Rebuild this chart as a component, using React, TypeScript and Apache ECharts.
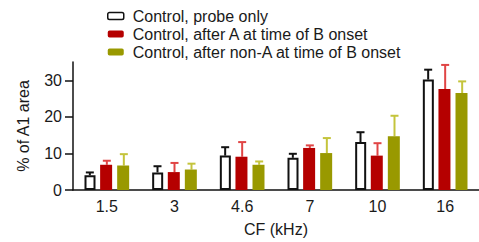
import React, { useEffect, useRef } from "react";
import * as echarts from "echarts";

const categories = ["1.5", "3", "4.6", "7", "10", "16"];
const seriesNames = [
  "Control, probe only",
  "Control, after A at time of B onset",
  "Control, after non-A at time of B onset",
];
const probeOnly = [4.0, 4.8, 9.4, 8.8, 13.1, 30.2];
const probeOnlyErr = [0.8, 1.7, 2.3, 1.1, 2.7, 2.7];
const afterA = [6.9, 4.9, 9.1, 11.5, 9.4, 27.6];
const afterAErr = [1.1, 2.5, 4.0, 0.7, 3.4, 6.6];
const afterNonA = [6.7, 5.6, 6.9, 10.1, 14.7, 26.5];
const afterNonAErr = [3.1, 1.6, 0.9, 4.1, 5.6, 3.2];
const yTicks = [0, 10, 20, 30];

const FONT = "Liberation Sans, Arial, sans-serif";
const TXT = "#1a1a1a";

function errSeries(vals: number[], errs: number[], offset: number, color: string) {
  return {
    type: "custom",
    silent: true,
    data: vals.map((v, i) => [i, v, v + errs[i]]),
    renderItem: (params: any, api: any) => {
      const i = api.value(0);
      const lo = api.coord([i, api.value(1)]);
      const hi = api.coord([i, api.value(2)]);
      const x = lo[0] + offset;
      const cap = 4;
      return {
        type: "group",
        children: [
          { type: "line", shape: { x1: x, y1: lo[1], x2: x, y2: hi[1] }, style: { stroke: color, lineWidth: 2 } },
          { type: "line", shape: { x1: x - cap, y1: hi[1], x2: x + cap, y2: hi[1] }, style: { stroke: color, lineWidth: 2 } },
        ],
      };
    },
    z: 1,
  };
}

export default function App() {
  const ref = useRef<HTMLDivElement>(null);
  useEffect(() => {
    document.body.style.margin = "0";
    const chart = echarts.init(ref.current!, null, { renderer: "svg" });
    chart.setOption({
      animation: false,
      backgroundColor: "#ffffff",
      textStyle: { fontFamily: FONT },
      legend: {
        orient: "vertical",
        left: 102,
        top: 3,
        itemWidth: 16,
        itemHeight: 7,
        itemGap: 2,
        textStyle: { fontSize: 16, color: TXT, fontFamily: FONT, padding: [0, 0, 0, 4] },
        data: [
          { name: seriesNames[0], itemStyle: { color: "#fff", borderColor: "#111", borderWidth: 1.5 } },
          { name: seriesNames[1] },
          { name: seriesNames[2] },
        ],
      },
      grid: { left: 73, right: -9, top: 62, bottom: 47 },
      xAxis: {
        type: "category",
        data: categories,
        name: "CF (kHz)",
        nameLocation: "middle",
        nameGap: 31,
        nameTextStyle: { fontSize: 16, color: TXT, fontFamily: FONT },
        axisLine: { lineStyle: { color: "#111", width: 1.5 } },
        axisTick: { show: false },
        axisLabel: { fontSize: 16, color: TXT, margin: 8, fontFamily: FONT },
      },
      yAxis: {
        type: "value",
        min: 0,
        max: 35,
        interval: 10,
        name: "% of A1 area",
        nameLocation: "middle",
        nameGap: 42,
        nameTextStyle: { fontSize: 16, color: TXT, fontFamily: FONT },
        axisLine: { show: true, lineStyle: { color: "#111", width: 1.5 } },
        axisTick: { show: true, length: 8, lineStyle: { color: "#111", width: 1.5 }, customValues: yTicks },
        axisLabel: { fontSize: 16, color: TXT, margin: 11, fontFamily: FONT, customValues: yTicks },
        splitLine: { show: false },
      },
      series: [
        {
          name: seriesNames[0],
          type: "bar",
          data: probeOnly,
          barWidth: 11,
          barGap: "50%",
          itemStyle: { color: "#fff", borderColor: "#111", borderWidth: 2 },
          z: 2,
        },
        {
          name: seriesNames[1],
          type: "bar",
          data: afterA,
          barWidth: 12,
          barGap: "42%",
          itemStyle: { color: "#b50000" },
          z: 2,
        },
        {
          name: seriesNames[2],
          type: "bar",
          data: afterNonA,
          barWidth: 12,
          barGap: "42%",
          itemStyle: { color: "#999900" },
          z: 2,
        },
        errSeries(probeOnly, probeOnlyErr, -17, "#111"),
        errSeries(afterA, afterAErr, 0, "#e04545"),
        errSeries(afterNonA, afterNonAErr, 17, "#c4c43c"),
      ],
    });
    return () => chart.dispose();
  }, []);
  return <div ref={ref} style={{ width: 479, height: 242 }} />;
}
